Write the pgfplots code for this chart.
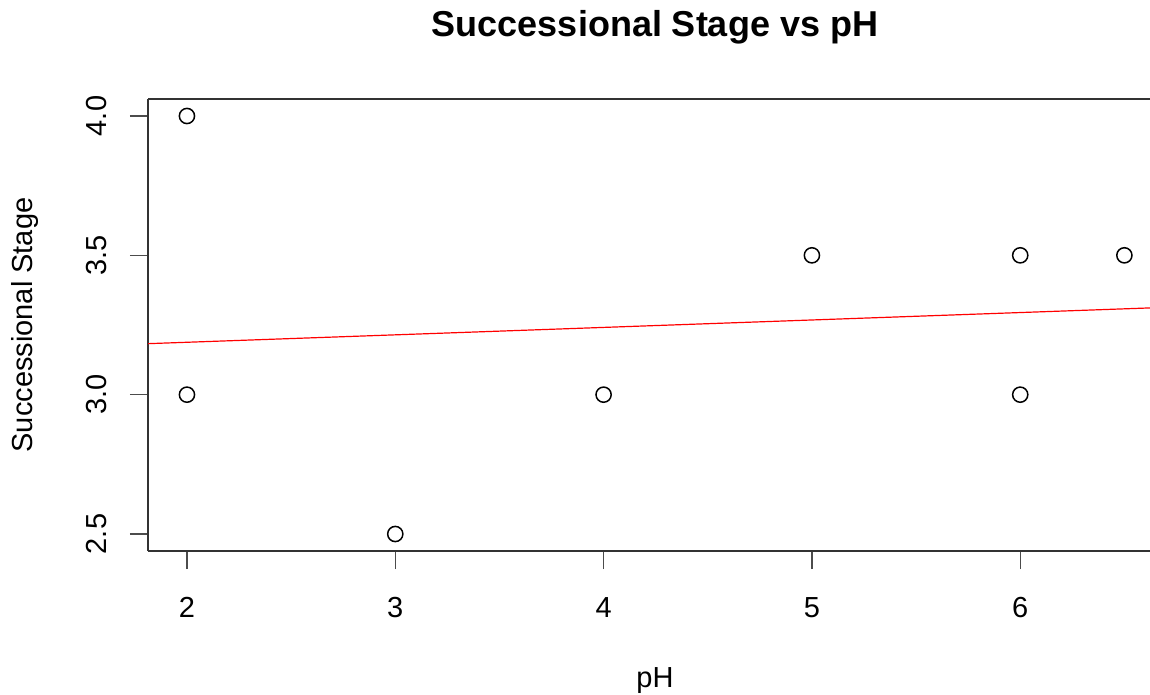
\documentclass[border=0pt]{standalone}
\usepackage{fontspec}
\setmainfont{Liberation Sans}
\usepackage{pgfplots}
\pgfplotsset{compat=1.18}
\begin{document}
\begin{tikzpicture}
  \begin{axis}[
      scale only axis,
      width=501pt, height=226pt,
      xmin=1.813, xmax=6.623,
      ymin=2.439, ymax=4.061,
      axis x line*=box, axis y line*=left,
      xtick={2,3,4,5,6},
      ytick={2.5,3.0,3.5,4.0},
      xtick pos=bottom, ytick pos=left,
      tick align=outside,
      major tick length=9pt,
      tick style={line width=0.7pt, black!70},
      axis line style={line width=0.8pt, black!80},
      tick label style={font=\fontsize{14.5}{16}\selectfont},
      /pgf/number format/assume math mode=true,
      yticklabel style={xshift=-11.5pt, rotate=90, anchor=base,
        /pgf/number format/.cd, fixed, fixed zerofill, precision=1},
      xticklabel style={anchor=base, yshift=-24pt},
      clip=true,
    ]
    % data points
    \addplot[only marks, mark=o, mark size=3.8pt, mark options={line width=0.75pt, black}] coordinates {
      (2,4.0) (2,3.0) (3,2.5) (4,3.0) (5,3.5) (6,3.5) (6,3.0) (6.5,3.5)
    };
    % fitted line
    \addplot[red, line width=0.6pt] coordinates {
      (1.7,3.180) (6.8,3.316)
    };
  \end{axis}
  \node[font=\bfseries\fontsize{18}{20}\selectfont, anchor=base] at (253.5pt,257pt) {Successional Stage vs pH};
  \node[font=\fontsize{14.5}{16}\selectfont, anchor=base] at (253.5pt,-68pt) {pH};
  \node[font=\fontsize{14.5}{16}\selectfont, rotate=90] at (-61.5pt,113pt) {Successional Stage};
  \pgfresetboundingbox
  \path (-74pt,-72pt) rectangle (501pt,275.5pt);
\end{tikzpicture}
\end{document}
